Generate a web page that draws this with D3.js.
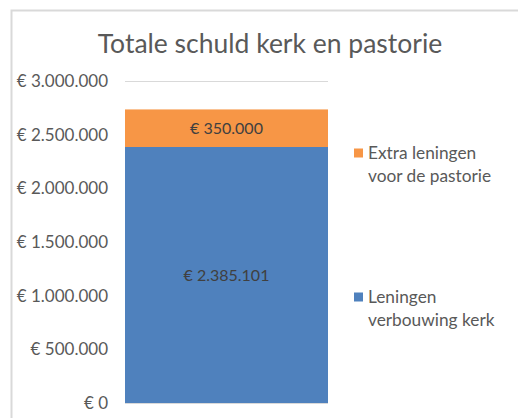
<!DOCTYPE html>
<html>
<head>
<meta charset="utf-8">
<script src="https://cdn.jsdelivr.net/npm/d3@7"></script>
<style>
  body { margin: 0; background: #fff; }
  svg { display: block; font-family: Lato, "Open Sans", sans-serif; }
</style>
</head>
<body>
<div id="chart"></div>
<script>
// gegevens
const categories = ['Totaal']
const seriesNames = ['Leningen verbouwing kerk', 'Extra leningen voor de pastorie']
const kerk = [2385101]
const pastorie = [350000]
const yTicks = [0, 500000, 1000000, 1500000, 2000000, 2500000, 3000000]
const colors = ['#4F81BD', '#F79646']

const width = 518
const height = 418

const svg = d3.select('#chart').append('svg').attr('width', width).attr('height', height)

// rand van het grafiekgebied
svg.append('rect')
  .attr('x', 11.5).attr('y', 10.5)
  .attr('width', 600).attr('height', 600)
  .attr('fill', '#fff').attr('stroke', '#d9d9d9').attr('stroke-width', 2)

// titel
svg.append('text')
  .attr('x', 270).attr('y', 53)
  .attr('text-anchor', 'middle')
  .attr('fill', '#595959')
  .style('font-size', '26.5px')
  .text('Totale schuld kerk en pastorie')

// euro notatie met punten
const euro = d => '€ ' + d3.format(',')(d).replace(/,/g, '.')

const x = d3.scaleBand().domain(categories).range([125, 328]).padding(0)
const y = d3.scaleLinear().domain([0, 3000000]).range([403, 81])

// rasterlijnen
svg.append('g').selectAll('line').data(yTicks).join('line')
  .attr('x1', 125).attr('x2', 328)
  .attr('y1', d => y(d) + 0.5).attr('y2', d => y(d) + 0.5)
  .attr('stroke', '#d9d9d9')

// y-as
const yAxis = d3.axisLeft(y).tickValues(yTicks).tickFormat(euro).tickSize(0).tickPadding(17)
const gy = svg.append('g').attr('transform', 'translate(125,0)').call(yAxis)
gy.select('.domain').remove()
gy.selectAll('text').attr('fill', '#595959').style('font-size', '17px').style('font-family', 'Lato, sans-serif')

// gestapelde data
const rows = categories.map((c, i) => ({ cat: c, kerk: kerk[i], pastorie: pastorie[i] }))
const stack = d3.stack().keys(['kerk', 'pastorie'])(rows)

const layers = svg.append('g').selectAll('g').data(stack).join('g')
  .attr('fill', (d, i) => colors[i])

layers.selectAll('rect').data(d => d).join('rect')
  .attr('x', d => x(d.data.cat))
  .attr('width', x.bandwidth())
  .attr('y', d => y(d[1]))
  .attr('height', d => y(d[0]) - y(d[1]))

// datalabels
layers.selectAll('text').data(d => d).join('text')
  .attr('x', d => x(d.data.cat) + x.bandwidth() / 2)
  .attr('y', d => (y(d[0]) + y(d[1])) / 2)
  .attr('dy', '0.35em')
  .attr('text-anchor', 'middle')
  .attr('fill', '#404040')
  .style('font-size', '16px')
  .text(d => euro(d[1] - d[0]))

// legenda
const legend = [
  { name: seriesNames[1], color: colors[1], lines: ['Extra leningen', 'voor de pastorie'], y: 153 },
  { name: seriesNames[0], color: colors[0], lines: ['Leningen', 'verbouwing kerk'], y: 297 }
]
const lg = svg.append('g').selectAll('g').data(legend).join('g')
  .attr('transform', d => 'translate(354,' + d.y + ')')
lg.append('rect').attr('x', 0).attr('y', -4.5).attr('width', 9).attr('height', 9).attr('fill', d => d.color)
lg.append('text')
  .attr('fill', '#595959')
  .style('font-size', '17.3px')
  .selectAll('tspan').data(d => d.lines).join('tspan')
  .attr('x', 14)
  .attr('y', (d, i) => i * 23)
  .attr('dy', '0.35em')
  .text(d => d)
</script>
</body>
</html>
